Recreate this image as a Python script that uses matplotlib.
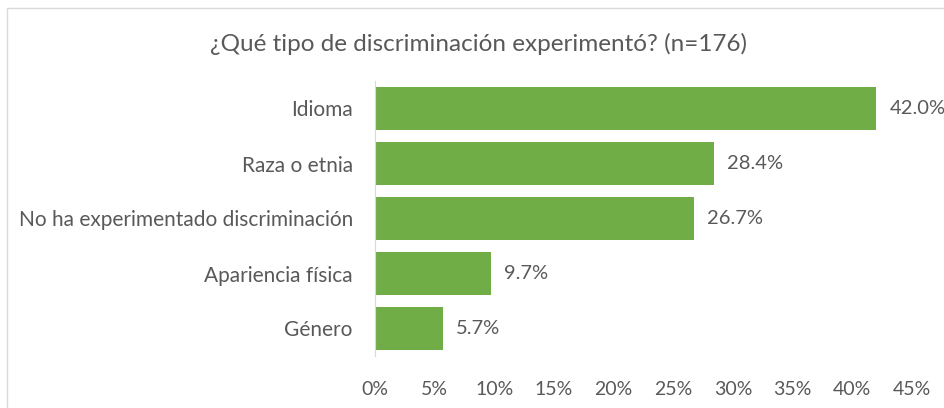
import matplotlib.pyplot as plt
from matplotlib.patches import Rectangle

categorias = ["Idioma", "Raza o etnia", "No ha experimentado discriminación",
              "Apariencia física", "Género"]
porcentajes = [42.0, 28.4, 26.7, 9.7, 5.7]
ticks = [0, 5, 10, 15, 20, 25, 30, 35, 40, 45]

gris = "#595959"
verde = "#70AD47"
plt.rcParams["font.family"] = ["Lato", "DejaVu Sans"]

fig = plt.figure(figsize=(9.44, 4.08), dpi=100)
fig.patches.append(Rectangle((7 / 944, -0.1), 1.2, (400 / 408) + 0.1,
                             transform=fig.transFigure, fill=False,
                             edgecolor="#D9D9D9", linewidth=1))
ax = fig.add_axes([375 / 944, 52 / 408, 537 / 944, 275 / 408])

y = list(range(len(categorias)))
ax.barh(y, porcentajes, height=0.79, color=verde)
for yi, v in zip(y, porcentajes):
    ax.text(v + 1.1, yi, f"{v:.1f}%", va="center", ha="left",
            fontsize=14.5, color=gris)

ax.set_xlim(0, 45)
ax.set_ylim(len(categorias) - 0.5, -0.5)
ax.set_yticks(y)
ax.set_yticklabels(categorias, fontsize=15, color=gris)
ax.set_xticks(ticks)
ax.set_xticklabels([f"{t}%" for t in ticks], fontsize=14, color=gris)
ax.tick_params(axis="both", length=0)
ax.tick_params(axis="y", pad=16)
ax.tick_params(axis="x", pad=18)
for s in ["top", "right", "bottom"]:
    ax.spines[s].set_visible(False)
ax.spines["left"].set_color("#D9D9D9")

fig.text(478 / 944, 1 - 44 / 408, "¿Qué tipo de discriminación experimentó? (n=176)",
         ha="center", va="center", fontsize=17.5, color=gris)

fig.savefig("out.png", dpi=100)
